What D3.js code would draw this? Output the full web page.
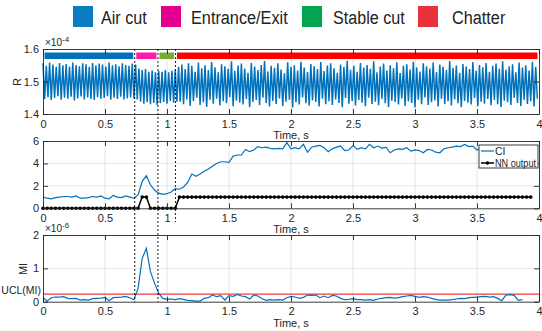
<!DOCTYPE html>
<html>
<head>
<meta charset="utf-8">
<script src="https://cdn.jsdelivr.net/npm/d3@7/dist/d3.min.js"></script>
<style>
  body { margin: 0; background: #fff; }
  svg { display: block; font-family: Arial, "Liberation Sans", Helvetica, sans-serif; }
</style>
</head>
<body>
<div id="chart"></div>
<script>
// ---- data ----
const phaseNames = ['Air cut', 'Entrance/Exit', 'Stable cut', 'Chatter']
const phaseBounds = [0, 0.74, 0.927, 1.068, 4]
const xTicks = [0, 0.5, 1, 1.5, 2, 2.5, 3, 3.5, 4]
const rTicks = [1.4, 1.5, 1.6]
const ciTicks = [0, 2, 4, 6]
const miTicks = [0, 1, 2]

// R signal, x1e-4 : one peak and one trough per cycle
const rPeaks = [
  1.556,1.548,1.558,1.552,1.545,1.557,1.550,1.554,1.546,1.558,1.551,1.547,1.556,1.553,
  1.545,1.557,1.549,1.555,1.552,1.546,1.558,1.550,1.553,1.547,1.556,1.551,1.548,1.555,
  1.552,1.540,1.535,1.538,1.530,1.534,1.528,1.532,
  1.530,1.535,1.528,1.533,1.536,
  1.545,1.552,1.538,1.556,1.548,1.530,1.558,1.541,1.550,1.535,
  1.560,1.544,1.528,1.553,1.547,1.539,1.562,1.533,1.549,1.555,
  1.540,1.527,1.557,1.546,1.536,1.551,1.563,1.531,1.548,1.542,
  1.556,1.537,1.525,1.559,1.545,1.550,1.534,1.561,1.543,1.529,
  1.554,1.547,1.538,1.560,1.532,1.549,1.556,1.541,1.527,1.552,
  1.545,1.564,1.536,1.548,1.530,1.557,1.543,1.551,1.539,1.562,
  1.528,1.546,1.555,1.534,1.550,1.541,1.559,1.526,1.548,1.553,
  1.537,1.561,1.544,1.531,1.556,1.547,1.540,1.558,1.529,1.552,
  1.545,1.535,1.563,1.542,1.549,1.527,1.554,1.546,1.538,1.560,
  1.533,1.551,1.544,1.557,1.530,1.548,1.555,1.539,1.562,1.536,
  1.547,1.553,1.528,1.558,1.543,1.550,1.534,1.561,1.545
]
const rTroughs = [
  1.446,1.452,1.443,1.449,1.455,1.444,1.450,1.447,1.453,1.442,1.448,1.454,1.445,1.451,
  1.446,1.443,1.452,1.447,1.449,1.455,1.444,1.450,1.446,1.453,1.445,1.448,1.451,1.447,
  1.445,1.438,1.432,1.436,1.430,1.434,1.428,1.433,
  1.437,1.432,1.440,1.435,1.438,
  1.438,1.430,1.445,1.425,1.440,1.450,1.428,1.436,1.422,1.444,
  1.432,1.447,1.426,1.439,1.433,1.452,1.424,1.441,1.435,1.429,
  1.446,1.421,1.437,1.443,1.427,1.450,1.434,1.423,1.440,1.431,
  1.448,1.425,1.438,1.444,1.420,1.436,1.429,1.451,1.433,1.426,
  1.442,1.437,1.423,1.447,1.430,1.439,1.428,1.445,1.434,1.421,
  1.449,1.432,1.440,1.426,1.443,1.435,1.424,1.450,1.431,1.438,
  1.427,1.446,1.433,1.422,1.441,1.437,1.429,1.448,1.425,1.439,
  1.434,1.420,1.444,1.430,1.451,1.428,1.436,1.442,1.423,1.447,
  1.431,1.439,1.426,1.445,1.433,1.421,1.440,1.435,1.429,1.449,
  1.424,1.438,1.432,1.446,1.427,1.443,1.430,1.422,1.441,1.436,
  1.428,1.450,1.434,1.425,1.444,1.431,1.439,1.423,1.447
]

// CI and NN output, one sample every 1/30 s
const sampleStep = 1 / 30
const ciValues = [
  1.0,0.9,0.85,0.95,1.0,1.05,1.05,1.0,1.1,0.9,
  0.9,0.95,1.05,1.0,1.1,0.9,0.85,1.15,1.0,0.95,
  1.1,1.0,0.9,1.2,2.4,2.9,2.1,1.6,1.35,1.25,
  1.3,1.45,1.75,1.7,1.9,2.3,3.05,2.85,3.05,3.3,
  3.5,3.75,4.0,4.15,4.15,4.1,4.65,4.75,4.75,5.25,
  5.05,5.2,5.5,5.4,5.45,5.35,5.3,5.35,5.3,5.85,
  5.3,5.4,5.3,5.7,5.0,5.45,5.55,5.6,5.4,5.05,
  5.3,5.45,5.55,5.15,5.2,5.6,5.25,5.4,5.3,5.7,
  5.4,5.55,5.35,5.45,4.95,5.2,5.3,5.25,5.4,5.1,
  5.2,5.15,4.95,5.25,5.2,5.0,4.95,5.3,5.4,5.45,
  5.55,5.5,5.7,5.5,5.55,5.2,5.4,5.3,5.5,5.3,
  5.6,5.4,5.45,5.2,5.5,5.35,5.6,5.4,5.5
]
const nnOutput = [
  0,0,0,0,0,0,0,0,0,0,0,0,0,0,0,0,0,0,0,0,0,0,0,0,
  1,1,
  0,0,0,0,0,0,0,
  1,1,1,1,1,1,1,1,1,1,1,1,1,1,1,1,1,1,1,1,1,1,1,1,1,1,1,1,1,1,
  1,1,1,1,1,1,1,1,1,1,1,1,1,1,1,1,1,1,1,1,1,1,1,1,1,1,1,1,1,1,
  1,1,1,1,1,1,1,1,1,1,1,1,1,1,1,1,1,1,1,1,1,1,1,1,1,1
]

// MI, x1e-6
const miValues = [
  0.12,0.02,0.12,0.14,0.14,0.15,0.1,0.09,0.1,0.05,
  0.06,0.05,0.09,0.1,0.11,0.13,0.03,0.12,0.13,0.14,
  0.16,0.12,0.06,0.4,1.3,1.6,0.9,0.55,0.25,0.1,
  0.07,0.08,0.06,0.09,0.07,0.04,0.03,0.02,0.02,0.1,
  0.12,0.2,0.15,0.18,0.05,0.18,0.16,0.22,0.17,0.15,
  0.08,0.2,0.17,0.09,0.04,0.06,0.05,0.06,0.05,0.12,
  0.16,0.14,0.1,0.13,0.2,0.19,0.2,0.12,0.17,0.12,
  0.19,0.17,0.1,0.06,0.07,0.09,0.06,0.06,0.05,0.06,
  0.04,0.08,0.1,0.12,0.13,0.11,0.12,0.15,0.17,0.19,
  0.16,0.13,0.15,0.14,0.1,0.07,0.05,0.05,0.05,0.06,
  0.08,0.1,0.09,0.12,0.13,0.14,0.15,0.16,0.14,0.15,
  0.1,0.03,0.2,0.21,0.19,0.04,0.06
]
const uclMI = 0.23

// ---- layout ----
const width = 542
const height = 331
const left = 43
const right = 539
const legendColors = ['#0a7cc2', '#e4008e', '#00a651', '#e8313b']
const barColors = ['#0072bd', '#ff1aaa', '#77ac30', '#ff0000']
const axisColor = '#262626'
const gridColor = '#dedede'
const blue = '#0072bd'

const svg = d3.select('#chart')
  .append('svg')
  .attr('width', width)
  .attr('height', height)

const x = d3.scaleLinear().domain([0, 4]).range([left, right])

// top legend
const legendItems = [
  {sq: 73, tx: 101, w: 45.7},
  {sq: 161, tx: 191, w: 96.7},
  {sq: 302, tx: 333, w: 71.7},
  {sq: 418, tx: 452, w: 53.3},
]
const topLegend = svg.append('g').attr('class', 'top-legend')
legendItems.forEach((d, i) => {
  topLegend.append('rect')
    .attr('x', d.sq).attr('y', 6)
    .attr('width', 20).attr('height', 21)
    .attr('fill', legendColors[i])
  topLegend.append('text')
    .attr('x', d.tx).attr('y', 23.5)
    .attr('font-size', 18)
    .attr('fill', '#222')
    .attr('textLength', d.w)
    .attr('lengthAdjust', 'spacingAndGlyphs')
    .text(phaseNames[i])
})

// one axes box, matlab style
const makePanel = (top, bottom, domain, yTicks) => {
  const y = d3.scaleLinear().domain(domain).range([bottom, top])
  const g = svg.append('g')

  // grid
  g.append('g').selectAll('line.gx')
    .data(xTicks.slice(1, -1))
    .enter().append('line')
    .attr('x1', d => x(d)).attr('x2', d => x(d))
    .attr('y1', top).attr('y2', bottom)
    .attr('stroke', gridColor).attr('stroke-width', 0.8)
  g.append('g').selectAll('line.gy')
    .data(yTicks.slice(1, -1))
    .enter().append('line')
    .attr('x1', left).attr('x2', right)
    .attr('y1', d => y(d)).attr('y2', d => y(d))
    .attr('stroke', gridColor).attr('stroke-width', 0.8)

  const plot = g.append('g')

  const styleAxis = sel => {
    sel.select('.domain').attr('stroke', axisColor).attr('stroke-width', 0.9)
    sel.selectAll('.tick line').attr('stroke', axisColor).attr('stroke-width', 0.9)
    sel.selectAll('.tick text').attr('fill', axisColor).attr('font-size', 11)
    sel.attr('font-family', null)
  }

  const axes = g.append('g')
  axes.append('g')
    .attr('transform', `translate(0,${bottom})`)
    .call(d3.axisBottom(x).tickValues(xTicks).tickSize(-5).tickSizeOuter(0).tickPadding(6).tickFormat(d => d))
    .call(styleAxis)
  axes.append('g')
    .attr('transform', `translate(0,${top})`)
    .call(d3.axisTop(x).tickValues(xTicks).tickSize(-5).tickSizeOuter(0).tickFormat(''))
    .call(styleAxis)
  axes.append('g')
    .attr('transform', `translate(${left},0)`)
    .call(d3.axisLeft(y).tickValues(yTicks).tickSize(-5).tickSizeOuter(0).tickPadding(4).tickFormat(d => d))
    .call(styleAxis)
  axes.append('g')
    .attr('transform', `translate(${right},0)`)
    .call(d3.axisRight(y).tickValues(yTicks).tickSize(-5).tickSizeOuter(0).tickFormat(''))
    .call(styleAxis)

  // x label
  g.append('text')
    .attr('x', (left + right) / 2)
    .attr('y', bottom + 25)
    .attr('text-anchor', 'middle')
    .attr('font-size', 11)
    .attr('fill', axisColor)
    .text('Time, s')

  return {y, plot, g}
}

const addExponent = (g, top, exp) => {
  const t = g.append('text')
    .attr('x', 45).attr('y', top - 3)
    .attr('font-size', 10)
    .attr('fill', axisColor)
  t.append('tspan').text('\u00d710')
  t.append('tspan').attr('dy', -4).attr('font-size', 8).text(exp)
}

const addYLabel = (g, label, cx, cy) => {
  g.append('text')
    .attr('transform', `translate(${cx},${cy}) rotate(-90)`)
    .attr('text-anchor', 'middle')
    .attr('font-size', 11)
    .attr('fill', axisColor)
    .text(label)
}

// ---- panel 1 : R ----
const p1 = makePanel(49, 114, [1.4, 1.6], rTicks)
const dt = 4 / rPeaks.length
const rPoints = []
rPeaks.forEach((v, i) => {
  rPoints.push([i * dt, v])
  rPoints.push([(i + 0.5) * dt, rTroughs[i]])
})
p1.plot.append('path')
  .datum(rPoints)
  .attr('d', d3.line().x(d => x(d[0])).y(d => p1.y(d[1])))
  .attr('fill', 'none')
  .attr('stroke', blue)
  .attr('stroke-width', 1.5)

// phase bars
p1.plot.selectAll('rect.phase')
  .data(phaseNames)
  .enter().append('rect')
  .attr('x', (d, i) => x(phaseBounds[i]) + 1.5)
  .attr('width', (d, i) => x(phaseBounds[i + 1]) - x(phaseBounds[i]) - 3)
  .attr('y', 52.5)
  .attr('height', 6.5)
  .attr('fill', (d, i) => barColors[i])
addExponent(p1.g, 49, '-4')
addYLabel(p1.g, 'R', 21, 82)

// ---- panel 2 : CI / NN ----
const p2 = makePanel(141, 208.3, [0, 6], ciTicks)
p2.plot.append('path')
  .datum(ciValues)
  .attr('d', d3.line().x((d, i) => x(i * sampleStep)).y(d => p2.y(d)))
  .attr('fill', 'none')
  .attr('stroke', blue)
  .attr('stroke-width', 1.2)
p2.plot.append('path')
  .datum(nnOutput)
  .attr('d', d3.line().x((d, i) => x(i * sampleStep)).y(d => p2.y(d)))
  .attr('fill', 'none')
  .attr('stroke', '#000')
  .attr('stroke-width', 1.5)
p2.plot.selectAll('circle')
  .data(nnOutput)
  .enter().append('circle')
  .attr('cx', (d, i) => x(i * sampleStep))
  .attr('cy', d => p2.y(d))
  .attr('r', 1.8)
  .attr('fill', '#000')

// legend box
const lg = p2.g.append('g')
lg.append('rect')
  .attr('x', 479).attr('y', 145)
  .attr('width', 59).attr('height', 23)
  .attr('fill', '#fff')
  .attr('stroke', axisColor).attr('stroke-width', 0.9)
lg.append('line')
  .attr('x1', 481).attr('x2', 494).attr('y1', 151).attr('y2', 151)
  .attr('stroke', blue).attr('stroke-width', 1.2)
lg.append('text').attr('x', 495).attr('y', 155).attr('font-size', 10.5).attr('fill', axisColor).text('CI')
lg.append('line')
  .attr('x1', 481).attr('x2', 494).attr('y1', 163).attr('y2', 163)
  .attr('stroke', '#000').attr('stroke-width', 1.5)
lg.append('circle').attr('cx', 487.5).attr('cy', 163).attr('r', 1.8).attr('fill', '#000')
lg.append('text').attr('x', 495).attr('y', 166.5).attr('font-size', 10.5).attr('fill', axisColor)
  .attr('textLength', 41).attr('lengthAdjust', 'spacingAndGlyphs')
  .text('NN output')

// ---- panel 3 : MI ----
const p3 = makePanel(235, 301.7, [0, 2], miTicks)
p3.plot.append('line')
  .attr('x1', left).attr('x2', right)
  .attr('y1', p3.y(uclMI)).attr('y2', p3.y(uclMI))
  .attr('stroke', '#f03a3a').attr('stroke-width', 1.3)
p3.plot.append('path')
  .datum(miValues)
  .attr('d', d3.line().x((d, i) => x(i * sampleStep)).y(d => p3.y(d)))
  .attr('fill', 'none')
  .attr('stroke', blue)
  .attr('stroke-width', 1.2)
addExponent(p3.g, 235, '-6')
addYLabel(p3.g, 'MI', 27, 269)
p3.g.append('text')
  .attr('x', 41).attr('y', p3.y(uclMI) - 0.5)
  .attr('text-anchor', 'end')
  .attr('font-size', 10.5)
  .attr('fill', axisColor)
  .text('UCL(MI)')

// ---- phase boundaries, dashed across panels ----
const boundaryEnds = [301.7, 301.7, 222]
svg.append('g').selectAll('line')
  .data(phaseBounds.slice(1, 4))
  .enter().append('line')
  .attr('x1', d => x(d)).attr('x2', d => x(d))
  .attr('y1', 49)
  .attr('y2', (d, i) => boundaryEnds[i])
  .attr('stroke', '#000')
  .attr('stroke-width', 0.9)
  .attr('stroke-dasharray', '2,2')
</script>
</body>
</html>
